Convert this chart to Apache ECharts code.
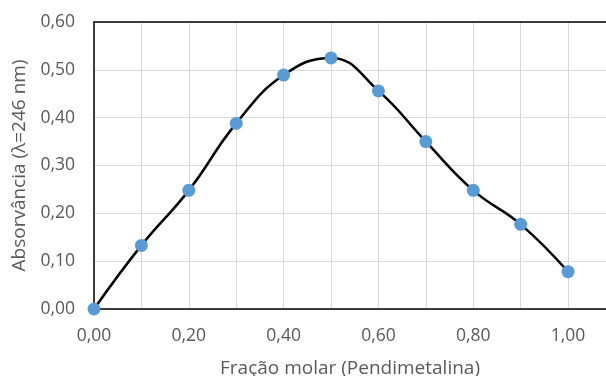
<!DOCTYPE html>
<html><head><meta charset="utf-8">
<script src="https://cdn.jsdelivr.net/npm/echarts@6/dist/echarts.min.js"></script>
<style>html,body{margin:0;padding:0;background:#fff;overflow:hidden}#c{width:606px;height:376px}</style>
</head><body><div id="c"></div>
<script>
const xValues = [0.0, 0.1, 0.2, 0.3, 0.4, 0.5, 0.6, 0.7, 0.8, 0.9, 1.0];
const absorbance = [0.000, 0.133, 0.248, 0.388, 0.489, 0.525, 0.456, 0.350, 0.248, 0.177, 0.078];
const xTitle = 'Fração molar (Pendimetalina)';
const yTitle = 'Absorvância (λ=246 nm)';
const fmt = v => v.toFixed(2).replace('.', ',');
const chart = echarts.init(document.getElementById('c'));
const font = 'Open Sans';
const labelColor = '#595959';
chart.setOption({
  animation: false,
  grid: { left: 94, top: 22, bottom: 67, right: 0, outerBoundsMode: 'none', containLabel: false },
  xAxis: [{
    type: 'value', min: 0, max: 1.08, interval: 0.1,
    axisLine: { show: true, onZero: false, lineStyle: { color: '#000', width: 1.5 } },
    axisTick: { show: false },
    splitLine: { show: true, lineStyle: { color: '#d9d9d9', width: 1 } },
    axisLabel: { color: labelColor, fontSize: 17.5, fontFamily: font, margin: 18, showMaxLabel: false,
      formatter: v => { const r = Math.round(v * 10); return (r % 2 === 0 && r <= 10) ? fmt(v) : ''; } },
    name: xTitle, nameLocation: 'middle', nameGap: 50,
    nameTextStyle: { color: labelColor, fontSize: 19, fontFamily: font }
  }, {
    type: 'value', position: 'top', min: 0, max: 1.08,
    axisLine: { show: true, onZero: false, lineStyle: { color: '#000', width: 1.5 } },
    axisTick: { show: false }, axisLabel: { show: false }, splitLine: { show: false }
  }],
  yAxis: {
    type: 'value', min: 0, max: 0.6, interval: 0.1,
    axisLine: { show: true, onZero: false, lineStyle: { color: '#000', width: 1.5 } },
    axisTick: { show: false },
    splitLine: { show: true, lineStyle: { color: '#d9d9d9', width: 1 } },
    axisLabel: { color: labelColor, fontSize: 17.5, fontFamily: font, margin: 19, formatter: v => fmt(v) },
    name: yTitle, nameLocation: 'middle', nameGap: 58,
    nameTextStyle: { color: labelColor, fontSize: 19, fontFamily: font }
  },
  series: [{
    type: 'line',
    data: xValues.map((x, i) => [x, absorbance[i]]),
    smooth: 0.45,
    symbol: 'circle', symbolSize: 13,
    itemStyle: { color: '#5B9BD5' },
    lineStyle: { color: '#000', width: 2.5 },
    clip: false
  }]
});
</script></body></html>
